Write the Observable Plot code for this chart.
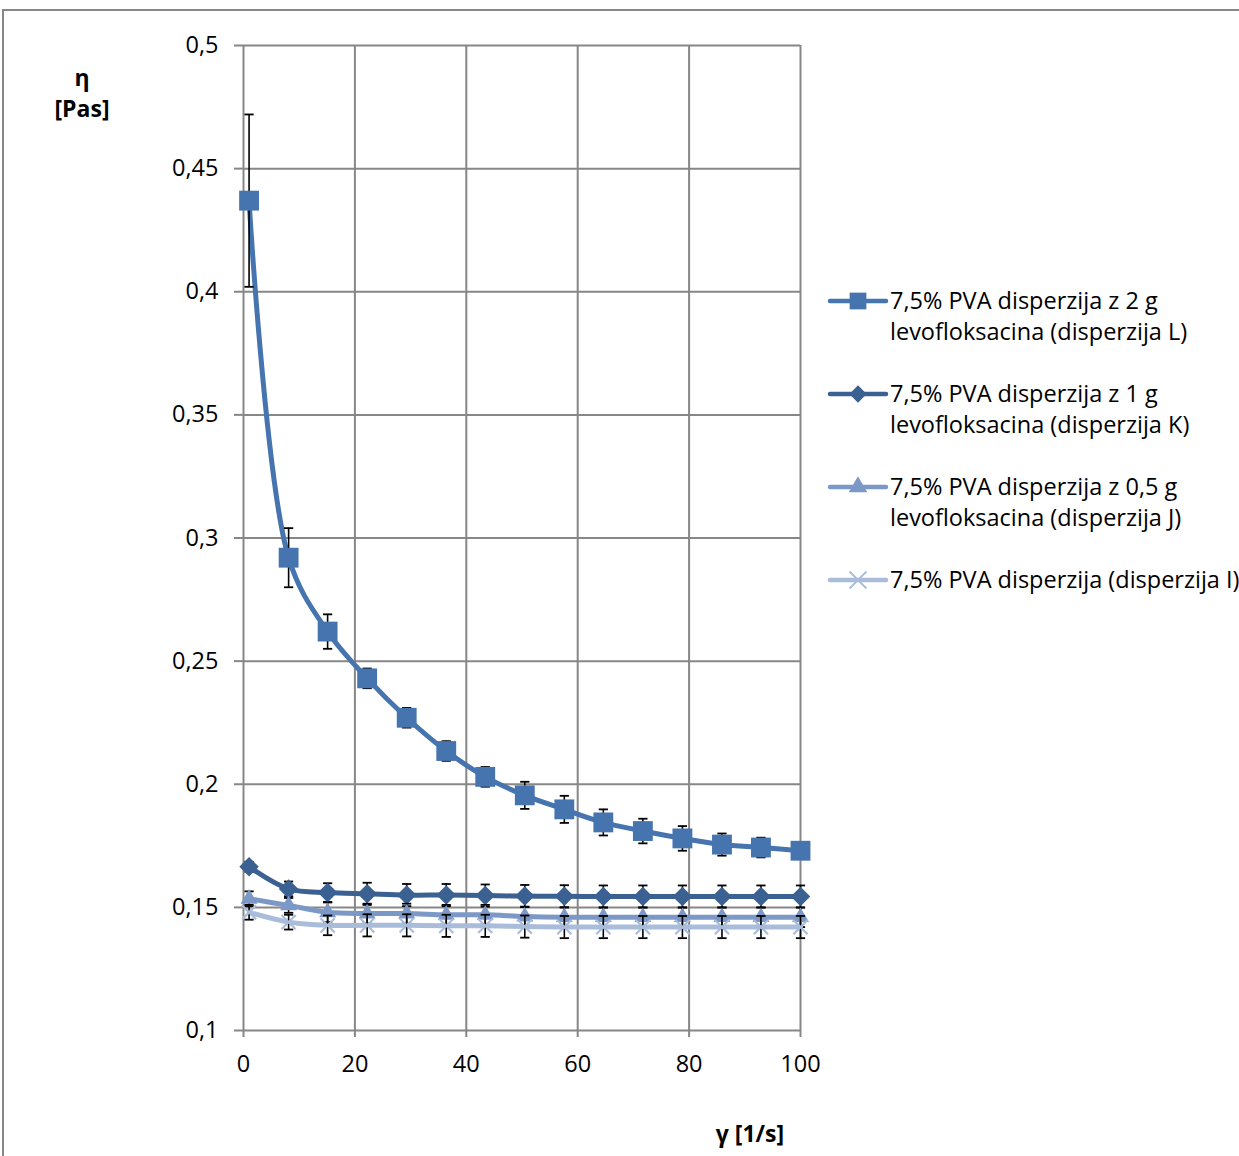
<!DOCTYPE html>
<html>
<head>
<meta charset="utf-8">
<script src="https://cdn.jsdelivr.net/npm/d3@7"></script>
<script src="https://cdn.jsdelivr.net/npm/@observablehq/plot@0.6"></script>
<style>
  html, body { margin: 0; padding: 0; background: #fff; }
  #chart { width: 1239px; height: 1156px; overflow: hidden; }
  svg { font-family: "Open Sans", Lato, sans-serif; }
</style>
</head>
<body>
<div id="chart"></div>
<script>
// Shear rate γ [1/s]
const shearRate = [1, 8.1, 15.1, 22.2, 29.3, 36.4, 43.4, 50.5, 57.6, 64.6, 71.7, 78.8, 85.9, 92.9, 100];

// Viscosity η [Pas] and standard deviations for each dispersion
const etaL = [0.437, 0.292, 0.262, 0.243, 0.227, 0.2135, 0.203, 0.1955, 0.1898, 0.1845, 0.181, 0.178, 0.1755, 0.1743, 0.173];
const errL = [0.035, 0.012, 0.007, 0.004, 0.004, 0.004, 0.004, 0.0055, 0.0055, 0.0053, 0.005, 0.005, 0.0045, 0.004, 0.003];
const etaK = [0.1665, 0.1575, 0.156, 0.1555, 0.155, 0.155, 0.1548, 0.1546, 0.1545, 0.1544, 0.1544, 0.1544, 0.1544, 0.1544, 0.1544];
const errK = [0.002, 0.003, 0.0038, 0.0045, 0.0045, 0.0045, 0.0045, 0.0045, 0.0045, 0.0045, 0.0045, 0.0045, 0.0045, 0.0045, 0.0045];
const etaJ = [0.1535, 0.1508, 0.148, 0.1475, 0.1475, 0.147, 0.147, 0.1463, 0.146, 0.146, 0.146, 0.146, 0.146, 0.146, 0.146];
const errJ = [0.003, 0.003, 0.004, 0.004, 0.004, 0.004, 0.004, 0.004, 0.004, 0.004, 0.004, 0.004, 0.004, 0.004, 0.004];
const etaI = [0.148, 0.144, 0.1427, 0.1427, 0.1427, 0.1425, 0.1425, 0.1422, 0.142, 0.142, 0.142, 0.142, 0.142, 0.142, 0.142];
const errI = [0.003, 0.003, 0.004, 0.0045, 0.0045, 0.0045, 0.0045, 0.0045, 0.0045, 0.0045, 0.0045, 0.0045, 0.0045, 0.0045, 0.0045];

const seriesNames = [
  ["7,5% PVA disperzija z 2 g", "levofloksacina (disperzija L)"],
  ["7,5% PVA disperzija z 1 g", "levofloksacina (disperzija K)"],
  ["7,5% PVA disperzija z 0,5 g", "levofloksacina (disperzija J)"],
  ["7,5% PVA disperzija (disperzija I)"]
];
const seriesColors = ["#4674AF", "#3A6192", "#7B98C7", "#A9BDDB"];
const yTicks = [0.1, 0.15, 0.2, 0.25, 0.3, 0.35, 0.4, 0.45, 0.5];
const xTicks = [0, 20, 40, 60, 80, 100];

const FONT = "'Open Sans', Lato, sans-serif";
const FONT_SIZE = 23.5;

const series = [
  {eta: etaL, err: errL, symbol: "square", r: 11.2, rotate: 0},
  {eta: etaK, err: errK, symbol: "square", r: 7.8, rotate: 45},
  {eta: etaJ, err: errJ, symbol: "triangle", r: 6.3, rotate: 0},
  {eta: etaI, err: errI, symbol: "times", r: 6.5, rotate: 0}
].map((s, i) => ({
  ...s,
  color: seriesColors[i],
  rows: shearRate.map((x, j) => ({x, y: s.eta[j], e: s.err[j]}))
}));

// horizontal cap for error bars
const capSymbol = {
  draw(ctx, size) {
    const w = Math.sqrt(size) / 2;
    ctx.moveTo(-w, 0);
    ctx.lineTo(w, 0);
  }
};

const marks = [
  Plot.gridY(yTicks, {stroke: "#878787", strokeOpacity: 1, strokeWidth: 2}),
  Plot.gridX(xTicks, {stroke: "#878787", strokeOpacity: 1, strokeWidth: 2}),
  Plot.axisY(yTicks, {tickFormat: d => String(d).replace(".", ","), tickSize: 9, tickPadding: 16,
    fontSize: FONT_SIZE, stroke: "#878787", strokeWidth: 2, color: "#000", label: null}),
  Plot.axisX(xTicks, {tickSize: 7, tickPadding: 18, fontSize: FONT_SIZE, stroke: "#878787", strokeWidth: 2, label: null})
];

for (const s of series) {
  marks.push(
    Plot.line(s.rows, {x: "x", y: "y", stroke: s.color, strokeWidth: 5, curve: "catmull-rom"}),
    Plot.ruleX(s.rows, {x: "x", y1: d => d.y - d.e, y2: d => d.y + d.e, stroke: "#000", strokeWidth: 1.6}),
    Plot.dot(s.rows, {x: "x", y: d => d.y - d.e, symbol: capSymbol, r: 5.2, stroke: "#000", strokeWidth: 1.8}),
    Plot.dot(s.rows, {x: "x", y: d => d.y + d.e, symbol: capSymbol, r: 5.2, stroke: "#000", strokeWidth: 1.8}),
    s.symbol === "times"
      ? Plot.dot(s.rows, {x: "x", y: "y", symbol: "times", r: s.r, stroke: s.color, strokeWidth: 2.2})
      : Plot.dot(s.rows, {x: "x", y: "y", symbol: s.symbol, r: s.r, rotate: s.rotate, fill: s.color, stroke: "none"})
  );
}

const chart = Plot.plot({
  width: 1239,
  height: 1156,
  marginLeft: 243,
  marginRight: 439,
  marginTop: 45,
  marginBottom: 126,
  x: {domain: [0, 100]},
  y: {domain: [0.1, 0.5]},
  style: {fontFamily: FONT, background: "#fff", color: "#000"},
  marks
});

document.getElementById("chart").appendChild(chart);

const svg = d3.select(chart);

// outer frame
svg.insert("path", ":first-child")
  .attr("d", "M3,1156V10H1239")
  .attr("fill", "none")
  .attr("stroke", "#878787")
  .attr("stroke-width", 2);

// axis titles
const titles = svg.append("g")
  .attr("font-family", FONT)
  .attr("font-weight", "bold")
  .attr("font-size", 23)
  .attr("text-anchor", "middle")
  .attr("fill", "#000");
titles.append("text").attr("x", 82).attr("y", 86).text("η");
titles.append("text").attr("x", 82).attr("y", 117).text("[Pas]");
titles.append("text").attr("x", 750).attr("y", 1142).text("γ [1/s]");

// legend
const legend = svg.append("g")
  .attr("font-family", FONT)
  .attr("font-size", FONT_SIZE)
  .attr("text-anchor", "start")
  .attr("fill", "#000");
const symbolPaths = {
  square: d3.symbol(d3.symbolSquare, 280)(),
  triangle: d3.symbol(d3.symbolTriangle, 150)(),
  times: d3.symbol(d3.symbolTimes, 190)()
};
series.forEach((s, i) => {
  const y0 = 301 + i * 93;
  const g = legend.append("g");
  g.append("line").attr("x1", 830).attr("x2", 886).attr("y1", y0).attr("y2", y0)
    .attr("stroke", s.color).attr("stroke-width", 4.5).attr("stroke-linecap", "round");
  if (s.symbol === "times") {
    g.append("path").attr("d", symbolPaths.times).attr("transform", `translate(858,${y0})`)
      .attr("fill", "none").attr("stroke", s.color).attr("stroke-width", 1.8);
  } else if (s.rotate) {
    g.append("path").attr("d", d3.symbol(d3.symbolSquare, 150)()).attr("transform", `translate(858,${y0}) rotate(45)`)
      .attr("fill", s.color);
  } else {
    g.append("path").attr("d", symbolPaths[s.symbol]).attr("transform", `translate(858,${y0})`)
      .attr("fill", s.color);
  }
  seriesNames[i].forEach((line, k) => {
    g.append("text").attr("x", 890).attr("y", y0 + 8 + k * 31).text(line);
  });
});
</script>
</body>
</html>
